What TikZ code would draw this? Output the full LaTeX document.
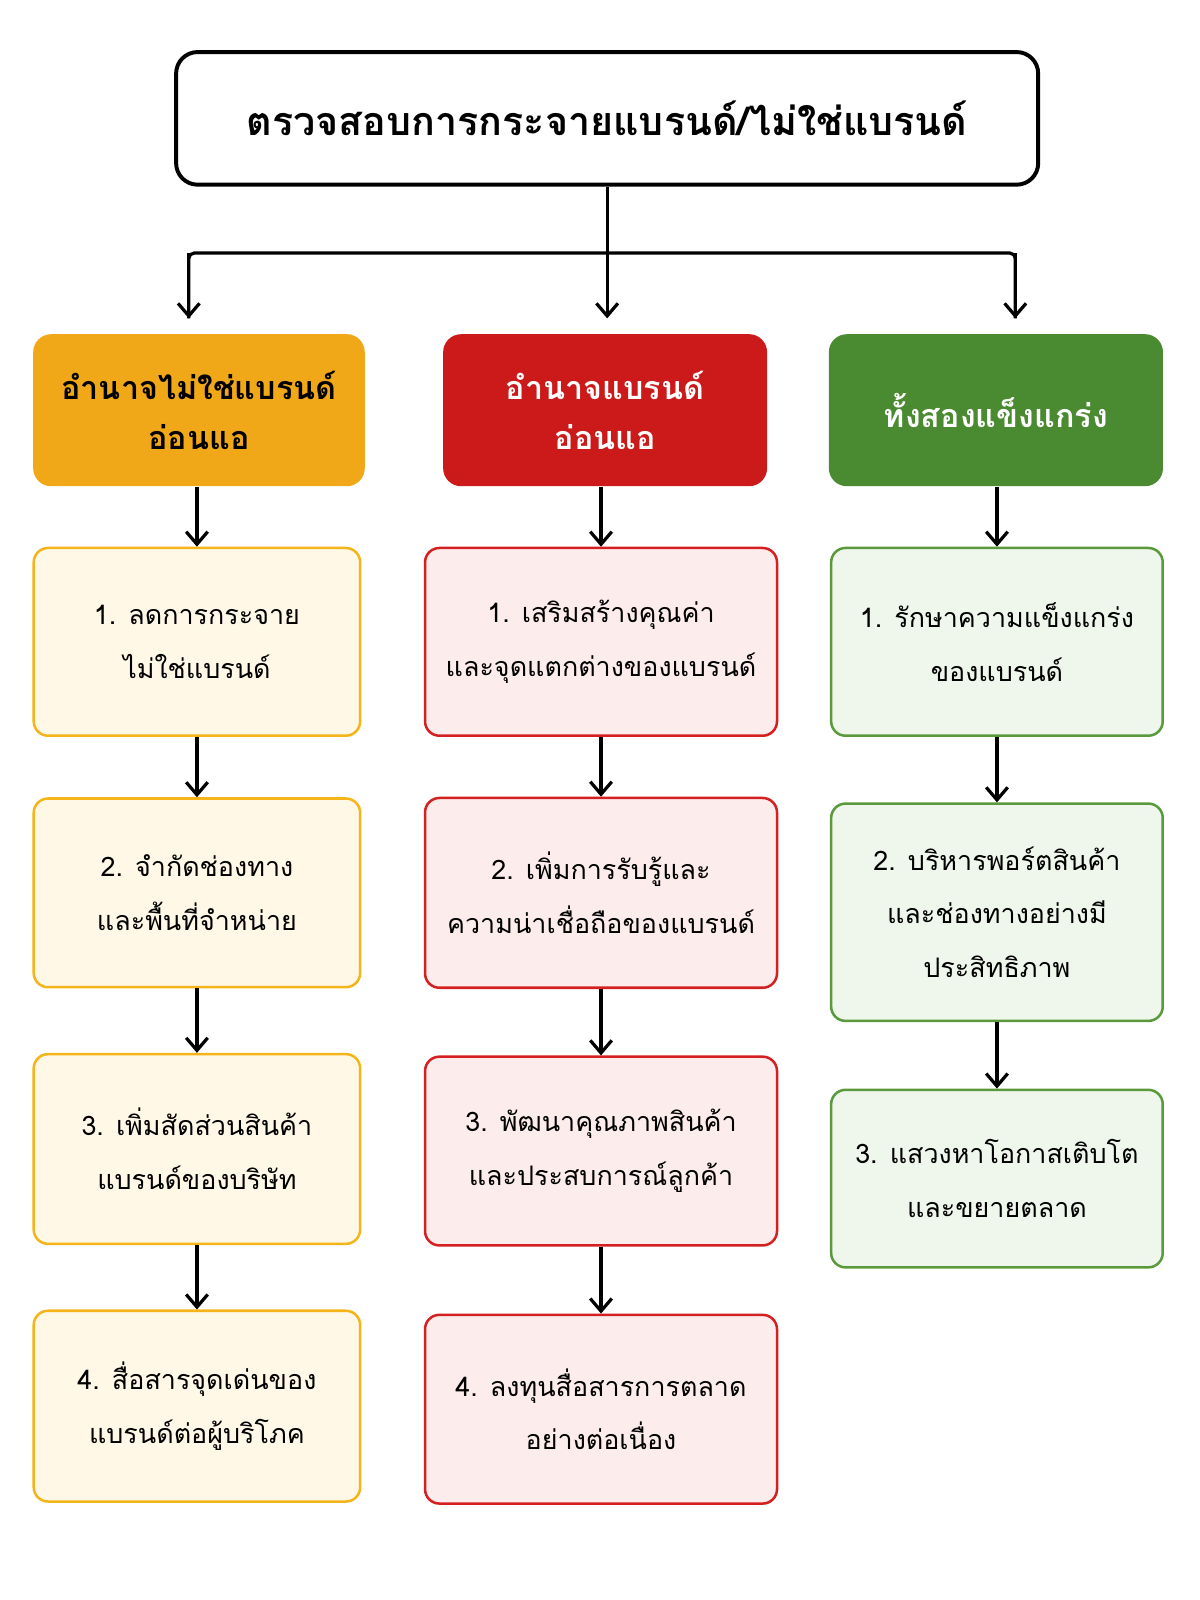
\documentclass[tikz,border=0pt]{standalone}
\usepackage{fontspec}
\setmainfont[Script=Thai]{Loma}
\usetikzlibrary{arrows.meta}
\definecolor{hdorange}{HTML}{F0A818}
\definecolor{hdred}{HTML}{CC1A1A}
\definecolor{hdgreen}{HTML}{4A8A30}
\definecolor{bxorange}{HTML}{FFF8E6}
\definecolor{bxred}{HTML}{FDECEC}
\definecolor{bxgreen}{HTML}{EFF6EB}
\definecolor{lnorange}{HTML}{F4B41A}
\definecolor{lnred}{HTML}{D42020}
\definecolor{lngreen}{HTML}{5A9A3C}
\begin{document}
\begin{tikzpicture}
		[x=0.02cm,y=-0.02cm,
		title/.style={rectangle,rounded corners=12pt,draw=black,line width=2.2pt,fill=white,minimum width=16.9cm,minimum height=2.6cm,font=\fontsize{22}{26}\selectfont\bfseries},
		head/.style={rectangle,rounded corners=10pt,draw=none,minimum height=2.98cm,align=center,font=\fontsize{18}{28}\selectfont\bfseries},
		stepbox/.style={rectangle,rounded corners=8pt,line width=1.4pt,align=center,font=\fontsize{15}{30}\selectfont},
		ybox/.style={stepbox,draw=lnorange,fill=bxorange,minimum width=6.4cm},
		rbox/.style={stepbox,draw=lnred,fill=bxred,minimum width=6.9cm},
		gbox/.style={stepbox,draw=lngreen,fill=bxgreen,minimum width=6.5cm},
		arr/.style={-{Straight Barb[length=7pt,width=12pt]},line width=1.8pt}
		]
		\useasboundingbox (0,0) rectangle (1176,1568);
		\node[title] (top) at (595,116){ตรวจสอบการกระจายแบรนด์/ไม่ใช่แบรนด์};
		% headers
		\node[head,fill=hdorange,minimum width=6.5cm] (h1) at (195,402){อำนาจไม่ใช่แบรนด์\\อ่อนแอ};
		\node[head,fill=hdred,text=white,minimum width=6.35cm] (h2) at (593,402){อำนาจแบรนด์\\อ่อนแอ};
		\node[head,fill=hdgreen,text=white,minimum width=6.55cm] (h3) at (976,402){ทั้งสองแข็งแกร่ง};
		\coordinate (mid) at (595,312);
		\coordinate (l) at (185,248);
		\coordinate (r) at (995,248);
		\draw[arr] (top.south) -- (mid);
		\draw[line width=1.8pt,rounded corners=3pt] (185,312) -- (l) -- (r) -- (995,312);
		\draw[arr] (l) -- (185,312);
		\draw[arr] (r) -- (995,312);
		% left column
		\node[ybox,minimum height=3.68cm] (a1) at (193,629){1. ลดการกระจาย\\ไม่ใช่แบรนด์};
		\node[ybox,minimum height=3.7cm] (a2) at (193,875){2. จำกัดช่องทาง\\และพื้นที่จำหน่าย};
		\node[ybox,minimum height=3.72cm] (a3) at (193,1126){3. เพิ่มสัดส่วนสินค้า\\แบรนด์ของบริษัท};
		\node[ybox,minimum height=3.74cm] (a4) at (193,1378){4. สื่อสารจุดเด่นของ\\แบรนด์ต่อผู้บริโภค};
		% middle column
		\node[rbox,minimum height=3.68cm] (b1) at (589,629){1. เสริมสร้างคุณค่า\\และจุดแตกต่างของแบรนด์};
		\node[rbox,minimum height=3.72cm] (b2) at (589,875){2. เพิ่มการรับรู้และ\\ความน่าเชื่อถือของแบรนด์};
		\node[rbox,minimum height=3.7cm] (b3) at (589,1128){3. พัฒนาคุณภาพสินค้า\\และประสบการณ์ลูกค้า};
		\node[rbox,minimum height=3.7cm] (b4) at (589,1381){4. ลงทุนสื่อสารการตลาด\\อย่างต่อเนื่อง};
		% right column
		\node[gbox,minimum height=3.68cm] (c1) at (977,629){1. รักษาความแข็งแกร่ง\\ของแบรนด์};
		\node[gbox,minimum height=4.26cm] (c2) at (977,894){2. บริหารพอร์ตสินค้า\\และช่องทางอย่างมี\\ประสิทธิภาพ};
		\node[gbox,minimum height=3.48cm] (c3) at (977,1155){3. แสวงหาโอกาสเติบโต\\และขยายตลาด};
		\draw[arr] (h1.south -| a1) -- (a1.north);
		\draw[arr] (a1) -- (a2);
		\draw[arr] (a2) -- (a3);
		\draw[arr] (a3) -- (a4);
		\draw[arr] (h2.south -| b1) -- (b1.north);
		\draw[arr] (b1) -- (b2);
		\draw[arr] (b2) -- (b3);
		\draw[arr] (b3) -- (b4);
		\draw[arr] (h3.south -| c1) -- (c1.north);
		\draw[arr] (c1) -- (c2);
		\draw[arr] (c2) -- (c3);
	\end{tikzpicture}
\end{document}
